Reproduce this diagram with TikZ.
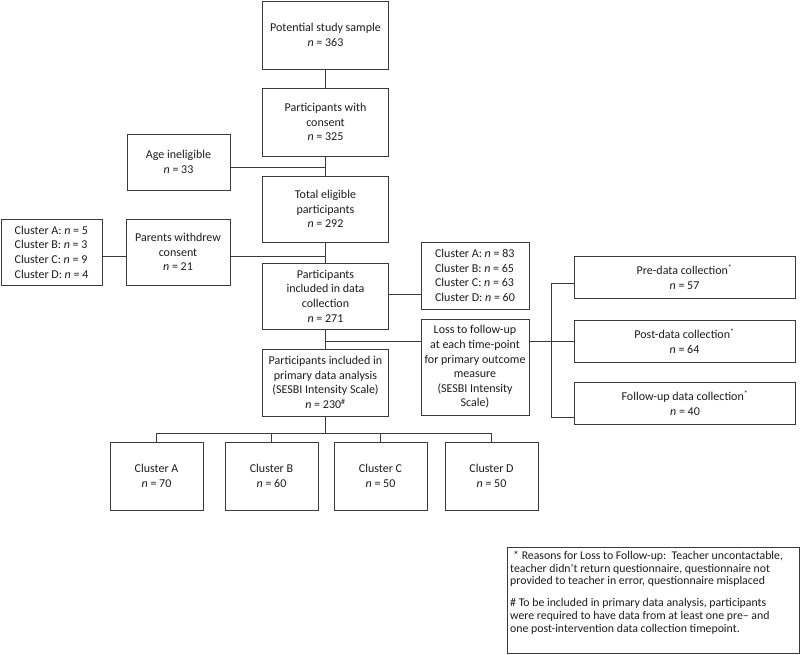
\documentclass[tikz,border=0pt]{standalone}
\usepackage{fontspec}
\setmainfont{Carlito}
\definecolor{FlowLine}{HTML}{3A3A3A}
\definecolor{FlowText}{HTML}{1C1C1C}
\newcommand{\nval}[1]{\textit{n} = #1}
\tikzset{
  flowbox/.style 2 args={draw=FlowLine,line width=0.9pt,align=center,inner sep=2pt,
    minimum width=#1,minimum height=#2},
  listbox/.style 2 args={flowbox={#1}{#2},align=left},
  conn/.style={draw=FlowLine,line width=0.9pt}
}

\begin{document}
\begin{tikzpicture}[x=1pt,y=-1pt,font=\fontsize{12}{14.6}\selectfont,text=FlowText]
  \useasboundingbox (0,0) rectangle (800,655);
  % main column
  \node[flowbox={126pt}{68pt}] (sample) at (325.5,35) {Potential study sample\\\nval{363}};
  \node[flowbox={126pt}{68pt}] (consent) at (325.5,122) {Participants with\\consent\\\nval{325}};
  \node[flowbox={126pt}{66pt}] (eligible) at (325.5,209) {Total eligible\\participants\\\nval{292}};
  \node[flowbox={126pt}{66pt}] (collect) at (325.5,296) {Participants\\included in data\\collection\\\nval{271}};
  \node[flowbox={126pt}{67pt}] (primary) at (325.5,382.5) {Participants included in\\primary data analysis\\(SESBI Intensity Scale)\\\nval{230}\textsuperscript{\#}};
  % exclusions on the left
  \node[flowbox={103pt}{56pt}] (age) at (178.5,162) {Age ineligible\\\nval{33}};
  \node[flowbox={104pt}{66pt}] (withdrew) at (178,252) {Parents withdrew\\consent\\\nval{21}};
  \node[listbox={101pt}{66pt}] (wclusters) at (51.5,252) {Cluster A: \nval{5}\\Cluster B: \nval{3}\\Cluster C: \nval{9}\\Cluster D: \nval{4}};
  % right of data collection
  \node[listbox={108pt}{67pt}] (ccluster) at (475,275.5) {Cluster A: \nval{83}\\Cluster B: \nval{65}\\Cluster C: \nval{63}\\Cluster D: \nval{60}};
  \node[flowbox={108pt}{96pt}] (loss) at (475,367) {Loss to follow-up\\at each time-point\\for primary outcome\\measure\\(SESBI Intensity\\Scale)};
  \node[flowbox={221pt}{42pt}] (pre) at (684.5,277) {Pre-data collection\textsuperscript{*}\\\nval{57}};
  \node[flowbox={221pt}{42pt}] (post) at (684.5,341) {Post-data collection\textsuperscript{*}\\\nval{64}};
  \node[flowbox={221pt}{42pt}] (follow) at (685,403) {Follow-up data collection\textsuperscript{*}\\\nval{40}};
  % clusters in the analysis
  \foreach \cx/\cl/\cn in {156.5/A/70,271.5/B/60,380.5/C/50,491.5/D/50}
    \node[flowbox={93pt}{68pt}] (cl\cl) at (\cx,476) {Cluster \cl\\\nval{\cn}};
  % note
  \node[draw=FlowLine,line width=0.9pt,minimum width=292pt,minimum height=106pt,anchor=north west] (note) at (507,547) {};
  \node[anchor=north west,align=left,inner sep=0pt,font=\fontsize{11.8}{12.6}\selectfont] (notetext) at (510,551)
    {\hspace{3pt}* Reasons for Loss to Follow-up:\ \ Teacher uncontactable,\\
     teacher didn't return questionnaire, questionnaire not\\
     provided to teacher in error, questionnaire misplaced\\[9.5pt]
     \# To be included in primary data analysis, participants\\
     were required to have data from at least one pre-- and\\
     one post-intervention data collection timepoint.};

  \coordinate (split) at (325.5,341);
  \coordinate (brktop) at (551,283);
  \coordinate (brkbot) at (551,417);
  \coordinate (fan) at (325.5,433);

  \draw[conn] (sample) -- (consent);
  \draw[conn] (consent) -- (eligible);
  \draw[conn] ([yshift=-5pt]age.east) -- ([yshift=-5pt]age.east -| eligible.north);
  \draw[conn] (eligible) -- (collect);
  \draw[conn] ([yshift=-4pt]wclusters.east) -- ([yshift=-4pt]withdrew.west);
  \draw[conn] ([yshift=-4pt]withdrew.east) -- ([yshift=-4pt]withdrew.east -| eligible.south);
  \draw[conn] ([yshift=2pt]collect.east) -- ([yshift=2pt]collect.east -| ccluster.west);
  \draw[conn] (collect) -- (primary);
  \draw[conn] (split) -- (split -| loss.west);
  \draw[conn] (split -| loss.east) -- (split -| post.west);
  \draw[conn] (brktop -| pre.west) -- (brktop) -- (brkbot) -- (brkbot -| follow.west);
  \draw[conn] (primary) -- (fan);
  \draw[conn] (clA.north) -- (clA.north |- fan) -- (clD.north |- fan) -- (clD.north);
  \foreach \cl in {B,C}
    \draw[conn] (cl\cl.north) -- (cl\cl.north |- fan);
\end{tikzpicture}
\end{document}
